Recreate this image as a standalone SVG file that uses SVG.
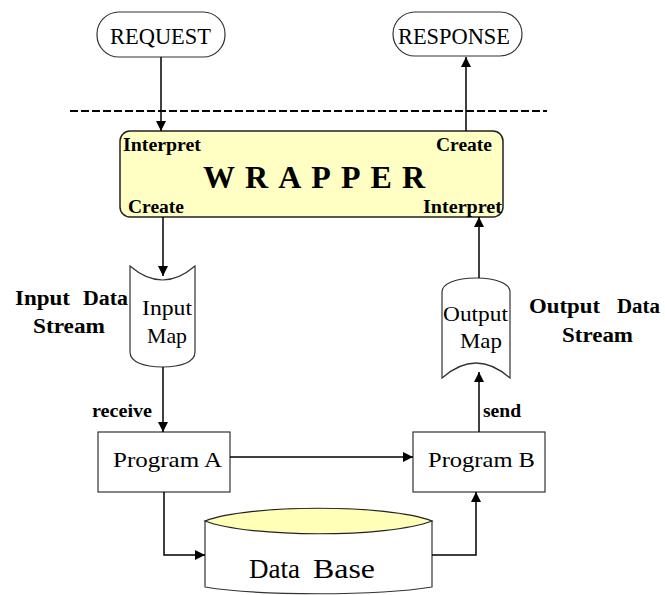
<svg xmlns="http://www.w3.org/2000/svg" width="665" height="595" viewBox="0 0 665 595">
  <defs>
    <marker id="arrow" viewBox="0 0 10 10" refX="10" refY="5" markerWidth="11" markerHeight="10" markerUnits="userSpaceOnUse" orient="auto">
      <path d="M0,0 L10,5 L0,10 Z" fill="#000"/>
    </marker>
    <style>
      .shape { fill: #fff; stroke: #333; stroke-width: 1.2; }
      .wrap { fill: #FFFFC4; stroke: #222; stroke-width: 1.5; }
      .lid { fill: #FFFFB8; stroke: #222; stroke-width: 1.2; }
      .conn { fill: none; stroke: #000; stroke-width: 1.5; marker-end: url(#arrow); }
      .dash { fill: none; stroke: #000; stroke-width: 2.2; stroke-dasharray: 8 3; }
      .t { font-family: "Liberation Serif", "Times New Roman", serif; fill: #000; }
      .b { font-family: "Liberation Serif", "Times New Roman", serif; font-weight: bold; fill: #000; }
    </style>
  </defs>

  <rect width="665" height="595" fill="#fff"/>

  <!-- boundary line -->
  <line class="dash" x1="70" y1="111" x2="547" y2="111"/>

  <g id="request">
    <rect class="shape" x="97" y="12" width="128" height="45" rx="22" ry="22"/>
    <text class="t" x="110" y="44" font-size="23" textLength="101" lengthAdjust="spacingAndGlyphs">REQUEST</text>
  </g>

  <g id="response">
    <rect class="shape" x="393" y="12" width="129" height="44" rx="22" ry="22"/>
    <text class="t" x="398" y="44" font-size="23" textLength="112" lengthAdjust="spacingAndGlyphs">RESPONSE</text>
  </g>

  <g id="wrapper">
    <rect class="wrap" x="120" y="131" width="383" height="86" rx="10" ry="10"/>
    <text class="b" x="123" y="151" font-size="18" textLength="78" lengthAdjust="spacingAndGlyphs">Interpret</text>
    <text class="b" x="436" y="151" font-size="18" textLength="56" lengthAdjust="spacingAndGlyphs">Create</text>
    <text class="b" x="203" y="188" font-size="32" textLength="222" lengthAdjust="spacing">WRAPPER</text>
    <text class="b" x="128" y="213" font-size="18" textLength="56" lengthAdjust="spacingAndGlyphs">Create</text>
    <text class="b" x="423" y="213" font-size="18" textLength="79" lengthAdjust="spacingAndGlyphs">Interpret</text>
  </g>

  <g id="input-map">
    <path class="shape" d="M130,266 Q162.5,294 195,266 V352 C195,362 181,367 162.5,367 C144,367 130,362 130,352 Z"/>
    <text class="t" x="142" y="315" font-size="22" textLength="50" lengthAdjust="spacingAndGlyphs">Input</text>
    <text class="t" x="147" y="343" font-size="22" textLength="40" lengthAdjust="spacingAndGlyphs">Map</text>
  </g>

  <g id="input-label">
    <text class="b" font-size="20"><tspan x="15" y="305" textLength="55" lengthAdjust="spacingAndGlyphs">Input</tspan> <tspan x="83" y="305" textLength="45" lengthAdjust="spacingAndGlyphs">Data</tspan></text>
    <text class="b" x="33" y="333" font-size="20" textLength="72" lengthAdjust="spacingAndGlyphs">Stream</text>
  </g>

  <g id="output-map">
    <path class="shape" d="M442,292 C442,284 455,278 476,278 C497,278 510,284 510,292 V378 Q476,348 442,378 Z"/>
    <text class="t" x="443" y="321" font-size="22" textLength="65" lengthAdjust="spacingAndGlyphs">Output</text>
    <text class="t" x="460" y="348" font-size="22" textLength="42" lengthAdjust="spacingAndGlyphs">Map</text>
  </g>

  <g id="output-label">
    <text class="b" font-size="20"><tspan x="529" y="313" textLength="71" lengthAdjust="spacingAndGlyphs">Output</tspan> <tspan x="617" y="313" textLength="43" lengthAdjust="spacingAndGlyphs">Data</tspan></text>
    <text class="b" x="562" y="342" font-size="20" textLength="71" lengthAdjust="spacingAndGlyphs">Stream</text>
  </g>

  <g id="program-a">
    <rect class="shape" x="98" y="432" width="132" height="60"/>
    <text class="t" x="113" y="467" font-size="22" textLength="109" lengthAdjust="spacingAndGlyphs">Program A</text>
  </g>

  <g id="program-b">
    <rect class="shape" x="413" y="432" width="132" height="60"/>
    <text class="t" x="428" y="467" font-size="22" textLength="107" lengthAdjust="spacingAndGlyphs">Program B</text>
  </g>

  <g id="database">
    <path class="shape" d="M205,521 V587 C260,596 377,596 432,587 V521 Z"/>
    <path class="lid" d="M205,521 C250,504 387,504 432,521 C387,538 250,538 205,521 Z"/>
    <text class="t" font-size="28"><tspan x="249" y="578" textLength="51" lengthAdjust="spacingAndGlyphs">Data</tspan> <tspan x="313" y="578" textLength="62" lengthAdjust="spacingAndGlyphs">Base</tspan></text>
  </g>

  <g id="connectors">
    <path class="conn" d="M161,57 V131"/>
    <path class="conn" d="M466,131 V57"/>
    <path class="conn" d="M163,217 V276"/>
    <path class="conn" d="M163,367 V432"/>
    <path class="conn" d="M230,457 H413"/>
    <path class="conn" d="M164,492 V555 H205"/>
    <path class="conn" d="M432,555 H476 V492"/>
    <path class="conn" d="M479,432 V372"/>
    <path class="conn" d="M479,278 V217"/>
    <text class="b" x="92" y="417" font-size="18" textLength="60" lengthAdjust="spacingAndGlyphs">receive</text>
    <text class="b" x="483" y="417" font-size="18" textLength="38" lengthAdjust="spacingAndGlyphs">send</text>
  </g>
</svg>
